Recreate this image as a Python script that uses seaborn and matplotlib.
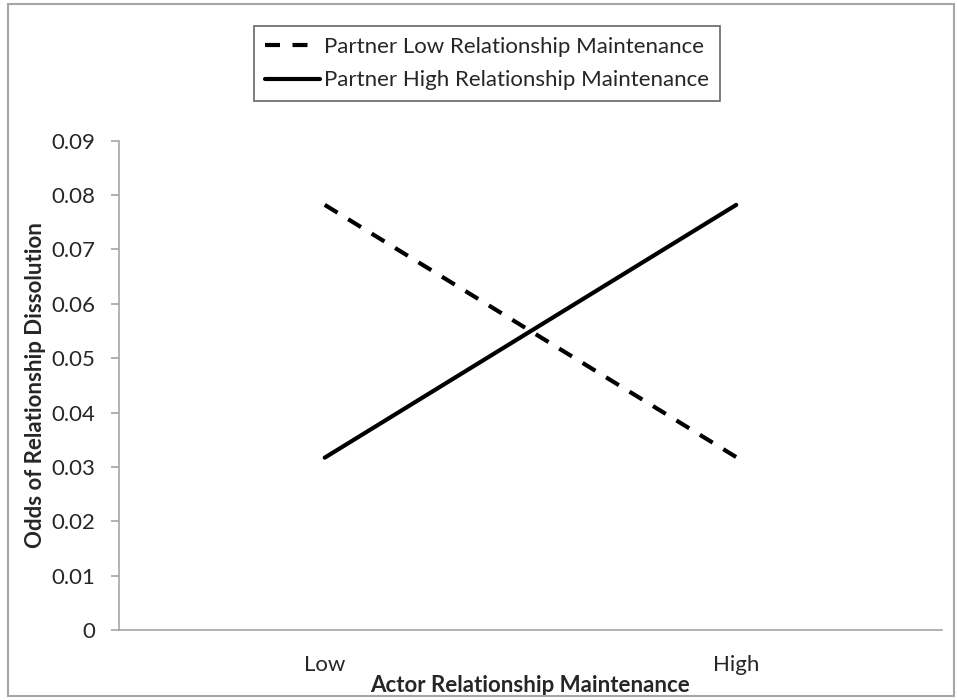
import matplotlib
matplotlib.use("Agg")
import matplotlib.pyplot as plt
import matplotlib.patches as mpatches
import pandas as pd
import seaborn as sns

sns.set_theme(style="white")
plt.rcParams["font.family"] = ["Lato", "DejaVu Sans"]

# data
actor_levels = ["Low", "High"]
partner_low = [0.0782, 0.0318]
partner_high = [0.0317, 0.0782]
series_names = ["Partner Low Relationship Maintenance",
                "Partner High Relationship Maintenance"]
y_ticks = [0, 0.01, 0.02, 0.03, 0.04, 0.05, 0.06, 0.07, 0.08, 0.09]
y_tick_labels = ["0", "0.01", "0.02", "0.03", "0.04", "0.05", "0.06", "0.07", "0.08", "0.09"]

df = pd.DataFrame({
    "actor": list(range(len(actor_levels))) * 2,
    "odds": partner_low + partner_high,
    "partner": [series_names[0]] * len(actor_levels) + [series_names[1]] * len(actor_levels),
})

fig = plt.figure(figsize=(9.58, 7.0), dpi=100)
ax = fig.add_axes([0.1242, 0.1, 0.8591, 0.699])

sns.lineplot(data=df, x="actor", y="odds", style="partner", style_order=series_names,
             dashes={series_names[0]: (3.6, 3.0), series_names[1]: ""},
             color="black", linewidth=3, ax=ax, legend=False)

grey = "#A6A6A6"
fs = 16
ax.set_xlim(-0.5, 1.5)
ax.set_ylim(0, 0.09)
ax.set_yticks(y_ticks)
ax.set_yticklabels(y_tick_labels, fontsize=fs)
ax.set_xticks([-0.5, 0.5, 1.5])
ax.set_xticklabels([])
ax.set_xticks([0, 1], minor=True)
ax.set_xticklabels(actor_levels, minor=True, fontsize=fs)
ax.tick_params(axis="x", which="major", direction="out", length=6, color=grey, width=1.2)
ax.tick_params(axis="x", which="minor", length=0, pad=18)
ax.tick_params(axis="y", direction="out", length=6, color=grey, width=1.2, pad=11, left=True)
for side in ["top", "right"]:
    ax.spines[side].set_visible(False)
for side in ["left", "bottom"]:
    ax.spines[side].set_color(grey)
    ax.spines[side].set_linewidth(1.2)

ax.set_xlabel("Actor Relationship Maintenance", fontsize=fs, fontweight="bold", labelpad=0)
ax.set_ylabel("Odds of Relationship Dissolution", fontsize=fs, fontweight="bold", labelpad=4)

handles = ax.get_lines()[:2]
leg = fig.legend(handles, series_names, loc="center", bbox_to_anchor=(0.508, 0.909),
                 fontsize=fs, frameon=True, fancybox=False, edgecolor="#404040",
                 handlelength=2.5, handletextpad=0.15, labelspacing=0.6, borderpad=0.5)
leg.get_frame().set_linewidth(1.2)

border = mpatches.Rectangle((8 / 958, 4 / 700), 946 / 958, 692 / 700, transform=fig.transFigure,
                            fill=False, edgecolor=grey, linewidth=1.5)
fig.patches.append(border)

fig.savefig("out.png", dpi=100)
plt.close(fig)
